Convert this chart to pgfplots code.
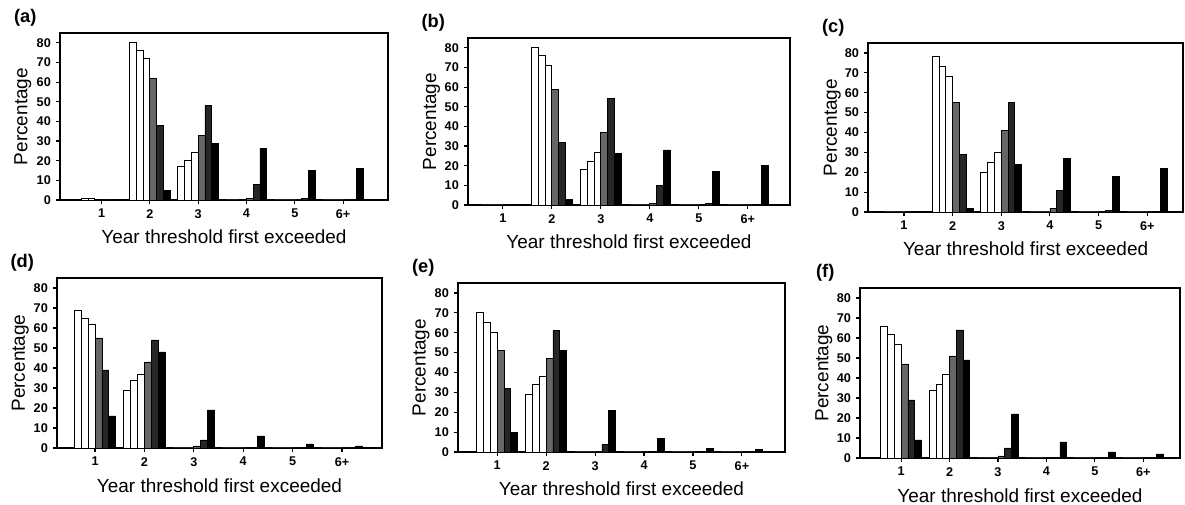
\documentclass[border=0pt]{standalone}
\usepackage{fontspec}
\setmainfont{Liberation Sans}
\usepackage{pgfplots}
\usepackage{pgfplotstable}
\pgfplotsset{compat=1.18}

% columns s1..s6: the six shades, white to black
\pgfplotstableread{
x s1 s2 s3 s4 s5 s6
1 1 1 0.5 0 0 0
2 80 76 72 62 38 5
3 17 20 24 33 48 29
4 0 0 0.3 1 8 26
5 0 0 0 0 1 15
6 0 0 0 0 0 16
}\dataA
\pgfplotstableread{
x s1 s2 s3 s4 s5 s6
1 0 0 0 0 0 0
2 80 76 71 59 32 3
3 18 22 27 37 54 26
4 0 0 0 1 10 28
5 0 0 0 0 1 17
6 0 0 0 0 0 20
}\dataB
\pgfplotstableread{
x s1 s2 s3 s4 s5 s6
1 0 0 0 0 0 0
2 78 73 68 55 29 2
3 20 25 30 41 55 24
4 0 0 0 2 11 27
5 0 0 0 0 1 18
6 0 0 0 0 0 22
}\dataC
\pgfplotstableread{
x s1 s2 s3 s4 s5 s6
1 69 65 62 55 39 16
2 29 34 37 43 54 48
3 0 0 0 1 4 19
4 0 0 0 0 0 6
5 0 0 0 0 0 2
6 0 0 0 0 0 1
}\dataD
\pgfplotstableread{
x s1 s2 s3 s4 s5 s6
1 70 65 60 51 32 10
2 29 34 38 47 61 51
3 0 0 0 0 4 21
4 0 0 0 0 0 7
5 0 0 0 0 0 2
6 0 0 0 0 0 1.5
}\dataE
\pgfplotstableread{
x s1 s2 s3 s4 s5 s6
1 66 62 57 47 29 9
2 34 37 42 51 64 49
3 0 0 0 1 5 22
4 0 0 0 0 0 8
5 0 0 0 0 0 3
6 0 0 0 0 0 2
}\dataF

\pgfplotsset{
  panel/.style={
    scale only axis,
    anchor=south west,
    clip mode=individual,
    ybar,
    bar width=0.14,
    ymin=0, ymax=85,
    xtick={1,2,3,4,5,6},
    xticklabels={1,2,3,4,5,6+},
    ytick={0,10,...,80},
    xtick pos=left, ytick pos=left,
    tick align=outside,
    major tick length=3pt,
    axis line style={line width=1.1pt},
    tick style={line width=0.8pt, black},
    tick label style={font=\fontsize{9}{10}\selectfont\bfseries},
    label style={font=\fontsize{13.5}{15}\selectfont},
    xlabel={Year threshold first exceeded},
    ylabel={Percentage},
    ylabel style={at={(axis description cs:-0.113,0.5)}, anchor=center},
    xlabel style={at={(axis description cs:0.5,-0.22)}, anchor=center},
    /pgf/number format/assume math mode=true,
  },
  s1/.style={draw=black, line width=0.6pt, fill=white, bar shift=-0.35},
  s2/.style={draw=black, line width=0.6pt, fill=white, bar shift=-0.21},
  s3/.style={draw=black, line width=0.6pt, fill=white, bar shift=-0.07},
  s4/.style={draw=black, line width=0.6pt, fill=black!60, bar shift=0.07},
  s5/.style={draw=black, line width=0.6pt, fill=black!85, bar shift=0.21},
  s6/.style={draw=black, line width=0.6pt, fill=black, bar shift=0.35},
}

\newcommand{\panelbars}[1]{%
  \addplot[s1] table[x=x,y=s1]{#1};
  \addplot[s2] table[x=x,y=s2]{#1};
  \addplot[s3] table[x=x,y=s3]{#1};
  \addplot[s4] table[x=x,y=s4]{#1};
  \addplot[s5] table[x=x,y=s5]{#1};
  \addplot[s6] table[x=x,y=s6]{#1};
}
\newcommand{\paneltag}[1]{\node[font=\fontsize{13}{15}\selectfont\bfseries] at (rel axis cs:0,1) [xshift=-0.87cm, yshift=0.37cm] {(#1)};}

\begin{document}
\begin{tikzpicture}
\useasboundingbox (0,0) rectangle (29.625,12.625);

\begin{axis}[panel, at={(1.5cm,7.625cm)}, width=8.2cm, height=4.175cm, xmin=0.14, xmax=6.93]
\panelbars{\dataA}
\paneltag{a}
\end{axis}

\begin{axis}[panel, at={(11.7cm,7.5cm)}, width=8.05cm, height=4.175cm, xmin=0.29, xmax=6.86]
\panelbars{\dataB}
\paneltag{b}
\end{axis}

\begin{axis}[panel, at={(21.7cm,7.325cm)}, width=7.88cm, height=4.225cm, xmin=0.26, xmax=6.74]
\panelbars{\dataC}
\paneltag{c}
\end{axis}

\begin{axis}[panel, at={(1.425cm,1.425cm)}, width=8.125cm, height=4.25cm, xmin=0.23, xmax=6.81]
\panelbars{\dataD}
\paneltag{d}
\end{axis}

\begin{axis}[panel, at={(11.45cm,1.325cm)}, width=8.175cm, height=4.225cm, xmin=0.2, xmax=6.88]
\panelbars{\dataE}
\paneltag{e}
\end{axis}

\begin{axis}[panel, at={(21.5cm,1.175cm)}, width=8.0cm, height=4.25cm, xmin=0.15, xmax=6.76]
\panelbars{\dataF}
\paneltag{f}
\end{axis}
\end{tikzpicture}
\end{document}
